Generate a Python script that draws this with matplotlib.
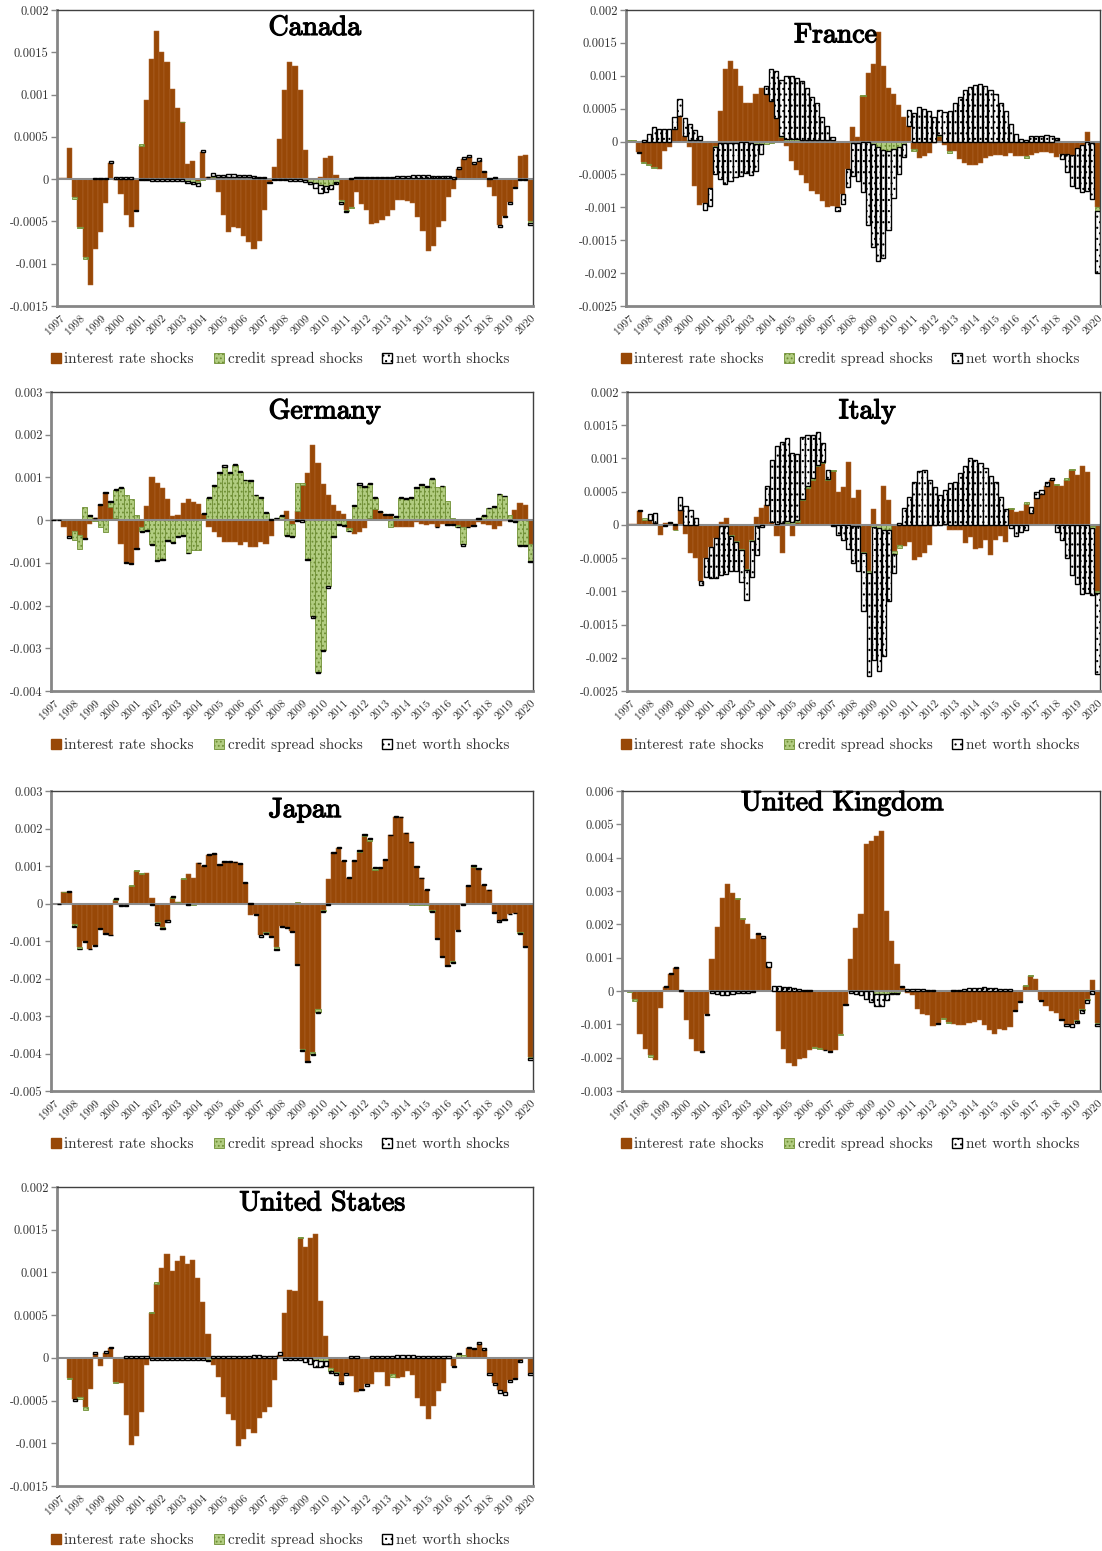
import numpy as np
import matplotlib
matplotlib.use("Agg")
import matplotlib.pyplot as plt
from matplotlib.patches import Patch
from matplotlib.transforms import ScaledTranslation
import matplotlib.patheffects as pe

plt.rcParams['font.family'] = ['cmr10', 'DejaVu Serif']
plt.rcParams['axes.unicode_minus'] = False
plt.rcParams['axes.formatter.use_mathtext'] = True
plt.rcParams['hatch.linewidth'] = 0.8

# quarterly contributions 1997Q1 - 2020Q1, in units of 1e-5
years = list(range(1997, 2021))

canada_ir = [1, 1, 37, -21, -56, -92, -125, -83, -62, -28,
             19, -1, -17, -42, -56, -36, 39, 93, 142, 175,
             150, 138, 106, 84, 67, 18, 22, -2, 32, 2,
             3, -15, -42, -62, -57, -58, -67, -74, -83, -73,
             -37, -3, 14, 48, 105, 138, 134, 105, 34, 0,
             0, 3, 25, 27, 5, -25, -36, -33, -15, -29,
             -37, -53, -52, -48, -44, -36, -25, -25, -26, -28,
             -45, -61, -85, -79, -56, -50, -21, -12, 12, 24,
             26, 18, 22, 8, -9, -20, -54, -43, -27, -9,
             27, 29, -50]
canada_cs = [0, 0, 0, -2, -2, -2, 0, 0, 0, 0,
             0, 0, 0, 0, 0, 0, 2, 0, 0, 0,
             0, 0, 0, 0, 1, -2, -3, -3, -1, 0,
             1, 2, 2, 2, 2, 2, 2, 2, 1, 1,
             1, 0, 0, 0, 0, 0, 0, 0, -1, -3,
             -5, -7, -8, -7, -3, -2, -2, -1, 1, 1,
             1, 1, 1, 1, 1, 1, 1, 1, 1, 1,
             1, 1, 1, 1, 1, 1, 1, 0, 0, 0,
             0, 0, 0, 0, 0, 1, 1, 0, 0, 0,
             0, 0, -2]
canada_nw = [0, 0, 0, 0, 0, 0, 0, 1, 1, 1,
             2, 2, 2, 2, 2, -2, -1, -1, -2, -2,
             -2, -2, -2, -2, -2, -3, -3, -3, 2, 1,
             3, 3, 3, 4, 4, 3, 3, 3, 3, 2,
             1, -2, -1, -1, -1, -2, -2, -2, -2, -3,
             -6, -9, -7, -5, -3, -2, -1, 1, 2, 2,
             2, 2, 2, 2, 2, 2, 3, 3, 3, 4,
             4, 4, 4, 3, 3, 3, 3, 2, 2, 2,
             2, 2, 3, 2, 1, 1, -2, -2, -2, -1,
             -1, -1, -2]

france_ir = [1, 1, -16, -31, -34, -38, -41, -15, -9, 19,
             39, 8, -9, -67, -96, -93, -70, -7, 47, 110,
             122, 110, 85, 58, 59, 73, 82, 73, 62, 36,
             7, -7, -30, -43, -51, -63, -75, -80, -90, -99,
             -98, -99, -79, -41, 22, 7, 69, 104, 118, 167,
             115, 82, 73, 55, 38, 23, -12, -25, -22, -17,
             -2, 8, -5, -15, -15, -27, -32, -35, -35, -32,
             -25, -22, -20, -20, -22, -18, -22, -22, -22, -20,
             -17, -16, -16, -18, -23, -19, -19, -20, -10, -5,
             14, -2, -100]
france_cs = [1, 1, 0, -2, -2, -2, 0, 0, 0, 0,
             -1, -1, 2, 2, 2, 1, 0, -1, -2, -2,
             -2, -2, -1, -1, -2, -3, -3, -3, -2, -1,
             1, 4, 4, 4, 3, 3, 3, 3, 3, 2,
             2, 1, 0, 0, -2, -2, 2, 0, -3, -8,
             -13, -15, -12, -8, -3, 0, -2, 0, 0, 0,
             0, 2, 0, -2, 0, 0, 0, 0, 0, 0,
             0, 0, 0, 0, 0, 0, 0, 0, -3, 0,
             0, 0, 0, 0, 2, 0, 0, 0, 0, 0,
             0, 0, -5]
france_nw = [0, 0, -1, 3, 12, 22, 19, 19, 19, 18,
             25, 28, 24, 16, 7, -11, -28, -41, -55, -62,
             -58, -52, -52, -47, -49, -42, -16, 11, 49, 72,
             86, 95, 96, 93, 89, 78, 65, 55, 35, 22,
             5, -7, -16, -28, -51, -58, -77, -127, -157, -174,
             -164, -119, -74, -41, -21, 25, 44, 52, 49, 46,
             37, 38, 45, 47, 58, 67, 78, 83, 86, 88,
             84, 78, 72, 59, 47, 27, 12, 4, 2, 8,
             8, 8, 10, 8, 3, -7, -28, -47, -60, -72,
             -75, -86, -95]

germany_ir = [0, 0, -15, -38, -25, -35, -42, -8, 5, 35,
              63, 30, 5, -57, -97, -100, -65, -15, 33, 100,
              87, 75, 50, 10, 12, 40, 49, 43, 37, 15,
              -15, -28, -40, -52, -50, -50, -58, -52, -63, -63,
              -52, -57, -37, 3, 2, 22, -8, 22, 83, 110,
              175, 133, 85, 58, 35, 22, 15, -18, -32, -27,
              -18, 5, 25, 18, 12, 13, -15, -17, -15, -15,
              -5, -10, -12, -10, -15, -8, -10, -10, -12, -15,
              -15, -12, -5, -10, -12, -20, -13, -3, 0, 23,
              40, 36, -55]
germany_cs = [0, 0, 3, 2, -22, -33, 31, 9, -2, -15,
              -28, 13, 65, 76, 60, 50, 12, -10, -22, -55,
              -93, -90, -46, -50, -38, -34, -76, -70, -70, 0,
              53, 80, 111, 125, 111, 128, 112, 93, 91, 58,
              53, 16, 1, 1, 8, -35, -30, 66, 4, -90,
              -225, -355, -303, -155, -37, -10, -12, -7, 33, 83,
              78, 80, 27, 2, 0, -15, 8, 52, 50, 52,
              75, 83, 78, 97, 78, 80, 45, 5, -3, -42,
              0, 3, 2, 10, 28, 30, 61, 56, 12, -2,
              -58, -58, -40]
germany_nw = [1, 1, 0, -3, 0, 0, -1, 2, 1, 2,
              2, 2, 2, 2, -3, -2, -3, -3, -3, -3,
              -3, -3, -3, -3, -2, -2, -2, 0, 0, 2,
              2, 3, 2, 3, 2, 3, 3, 2, 2, 2,
              2, 2, 2, 2, 1, -2, -2, -3, -5, -3,
              -3, -3, -3, -3, -3, -2, -2, -1, 2, 3,
              3, 3, 2, 2, 2, 2, 2, 2, 2, 2,
              2, 2, 2, 1, -2, 1, -1, -1, -2, -3,
              -2, -2, 2, 1, 1, 2, 1, 1, -2, -3,
              -2, -2, -2]

italy_ir = [1, 1, 21, 8, 8, 3, -15, 3, 3, -7,
            23, -13, -43, -50, -84, -50, -33, -19, 5, 10,
            -15, -24, -36, -66, -22, 12, 25, 30, 4, -16,
            -43, 3, -16, 4, 38, 56, 68, 88, 93, 68,
            81, 50, 57, 95, 40, 53, -41, -70, 24, 0,
            58, 37, -40, -30, -32, -25, -53, -48, -43, -30,
            -2, 0, 2, -7, -8, -8, -28, -18, -37, -35,
            -22, -45, -22, -17, -25, 24, 20, 21, 31, 18,
            41, 46, 58, 68, 60, 58, 68, 82, 75, 88,
            80, -2, -100]
italy_cs = [1, 1, 0, 2, 0, 0, 0, 0, 0, -1,
            0, 0, 0, 0, 0, 0, 0, 0, -2, -2,
            -2, -2, -2, -2, -2, -1, 0, 0, 0, 1,
            3, 3, 4, 3, 1, 2, 2, 2, 1, 1,
            1, 0, 0, 0, -1, -2, -2, -2, -3, -5,
            -8, -8, -4, -5, 0, 0, 0, 0, 0, 0,
            0, 0, 0, 0, 0, 0, 0, 0, 0, 0,
            0, 0, 0, 0, 0, 2, 0, 0, 3, 0,
            0, 0, 1, 0, 2, 0, 2, 2, 0, 0,
            0, -3, -3]
italy_nw = [0, 0, 2, 0, 9, 15, 0, -2, 2, 2,
            19, 28, 22, 10, -6, -29, -47, -61, -73, -72,
            -53, -43, -48, -45, -55, -45, -3, 28, 93, 117,
            121, 125, 104, 100, 93, 77, 66, 50, 29, 13,
            -2, -15, -22, -36, -56, -68, -87, -155, -200, -215,
            -189, -106, -28, 3, 25, 42, 64, 81, 83, 67,
            57, 45, 50, 63, 64, 78, 88, 100, 98, 93,
            86, 74, 64, 42, 24, -5, -17, -11, -7, 9,
            8, 7, 6, 2, -10, -23, -50, -75, -89, -104,
            -102, -100, -122]

japan_ir = [0, 0, 30, 30, -55, -115, -100, -120, -110, -65,
            -78, -83, 10, -5, -5, 48, 87, 80, 81, 14,
            -48, -62, -45, 15, 3, 66, 78, 67, 107, 100,
            130, 133, 103, 112, 112, 110, 105, 56, -30, -27,
            -85, -75, -87, -115, -60, -63, -73, -160, -387, -420,
            -395, -282, -18, 66, 135, 147, 113, 68, 113, 138,
            180, 168, 90, 95, 117, 182, 232, 230, 187, 163,
            97, 67, 37, -18, -92, -140, -163, -153, -70, -2,
            47, 97, 93, 50, 35, -23, -45, -40, -27, -24,
            -75, -113, -410]
japan_cs = [2, 0, 2, 0, -5, -5, 0, 0, 0, 0,
            0, 0, 3, 0, 0, 2, 3, 2, 0, 0,
            -5, -3, 0, 3, 2, 2, 0, -3, 0, 0,
            0, 0, 0, 0, 0, 0, 0, 0, 0, 2,
            0, -3, 0, -5, 0, 0, 0, 4, -3, 0,
            -5, -8, -2, 0, 0, 2, 0, 0, 0, 2,
            3, 5, 5, -2, -2, -2, -2, -2, -2, -3,
            -3, -3, -3, -2, 0, 0, 0, -3, 0, 0,
            0, 3, 0, 0, 0, 0, 0, 0, 0, 0,
            -3, 0, -3]
japan_nw = [0, -2, 0, 3, -2, -2, -2, -2, -2, -2,
            -2, -2, 3, -2, -2, 0, 0, 0, 0, -4,
            -3, -4, -3, 2, 0, 0, -5, 0, 2, 2,
            2, 2, 2, 2, 2, 2, 2, 2, 2, -3,
            -3, -3, -3, -3, -3, -3, -3, -3, -3, -3,
            -3, -3, -3, -3, 2, 2, 2, 2, 2, 2,
            2, 2, 2, 2, 2, 2, 2, 2, 2, 2,
            2, 2, 2, -2, -2, -3, -3, -3, -3, -2,
            2, 2, 2, 2, 2, -2, -3, -3, -2, -2,
            -2, -3, -3]

uk_ir = [0, -1, -25, -130, -173, -193, -208, -52, 13, 50,
         68, -3, -88, -145, -180, -180, -70, 97, 193, 280,
         320, 295, 275, 215, 200, 155, 170, 160, 72, 1,
         -120, -175, -215, -225, -205, -200, -178, -168, -170, -176,
         -180, -178, -130, -40, 95, 188, 230, 440, 450, 465,
         480, 240, 150, 80, 13, -5, -12, -55, -68, -73,
         -105, -97, -82, -93, -100, -103, -103, -97, -93, -88,
         -102, -118, -130, -115, -118, -108, -56, -31, 15, 45,
         35, -28, -45, -60, -65, -83, -100, -98, -88, -55,
         -25, 33, -95]
uk_cs = [0, -2, -5, 0, 0, -4, 0, 0, 0, 0,
         0, 0, 0, 0, 0, 0, 0, 0, 0, 0,
         0, 0, 3, 3, 0, 0, 0, 0, 0, 0,
         0, 0, 0, 0, 0, 0, 0, -3, -3, 0,
         0, 0, -3, 0, 0, 0, 0, 0, 0, -10,
         -10, -8, -5, -5, 0, 0, 0, 0, 0, 0,
         0, 0, -3, -3, 0, 0, 0, 0, 0, 0,
         0, 0, 0, 0, 0, 0, 0, 0, 3, 3,
         0, 0, 0, 0, 0, 0, 0, 0, -2, -3,
         -3, 0, -3]
uk_nw = [0, 0, 0, 0, 0, 0, 0, 0, 3, 3,
         4, 3, 0, 0, 0, -2, -3, -7, -10, -12,
         -12, -10, -7, -6, -5, -4, 3, 6, 14, 15,
         15, 13, 12, 9, 6, 4, 2, 0, 0, -2,
         -2, 0, 0, -3, -7, -10, -12, -25, -33, -35,
         -35, -20, -3, -3, 3, 5, 6, 6, 5, 2,
         2, -3, 0, 0, 2, 3, 7, 8, 10, 10,
         12, 10, 8, 7, 5, 5, -3, -3, 0, 0,
         0, -2, 0, 0, 0, -3, -5, -10, -5, -7,
         -7, -8, -7]

us_ir = [0, 0, -23, -48, -46, -58, -37, 5, -10, 6,
         11, -28, -30, -67, -102, -92, -63, -8, 52, 87,
         105, 122, 102, 113, 119, 110, 115, 93, 65, 28,
         -8, -22, -46, -66, -73, -103, -95, -83, -88, -70,
         -63, -57, -26, 3, 53, 80, 78, 140, 130, 140,
         145, 66, 26, -12, -16, -28, -18, -21, -40, -36,
         -31, -31, -16, -17, -33, -19, -24, -22, -15, -20,
         -47, -56, -71, -56, -39, -29, -1, -9, 1, 1,
         11, 10, 16, 9, -18, -30, -38, -40, -26, -23,
         -3, 0, -18]
us_cs = [0, 0, -2, 0, -2, -3, 0, 0, 0, 0,
         0, -2, 0, 0, 0, 0, 0, 0, 2, 2,
         0, 0, 0, 0, 0, 0, 0, 0, 0, -2,
         0, 0, 0, 0, 0, 0, 0, 0, 0, 0,
         0, 0, 0, 0, 0, 0, 0, 2, 0, 0,
         -3, -4, -4, -3, -2, 0, 0, 0, 0, 0,
         0, 0, 0, 0, 0, -3, 0, 0, 0, 0,
         0, 0, 0, 0, 0, 0, 0, 0, 3, 2,
         0, 0, 0, 0, 0, 0, 0, 0, 0, 0,
         0, 0, 0]
us_nw = [0, 0, 0, -2, 0, 0, 0, 2, 0, 2,
         2, 0, 0, 2, 2, 2, 2, 2, -2, -2,
         -2, -2, -3, -2, -2, -3, -3, -2, -2, -2,
         2, 2, 2, 2, 2, 2, 2, 2, 3, 3,
         2, 2, 2, 4, -2, -2, -2, -3, -5, -7,
         -8, -7, -5, -3, -2, -3, -2, 2, 2, -2,
         -2, 2, 2, 2, 2, 2, 3, 3, 3, 3,
         2, 2, 2, 2, 2, 2, 2, -2, 2, 0,
         2, 2, 2, 2, -2, -2, -3, -3, -2, -2,
         -2, 0, -2]

BROWN = '#984807'
GREEN_FACE = '#b1cc80'
GREEN_EDGE = '#6f8f35'

ir_style = dict(width=1.0, color=BROWN, edgecolor='#b0662f', linewidth=0.35, zorder=2)
cs_style = dict(width=1.0, facecolor=GREEN_FACE, edgecolor=GREEN_EDGE, hatch='....',
                linewidth=0.6, zorder=2.2)
nw_style = dict(width=0.82, facecolor='white', edgecolor='black', hatch='...',
                linewidth=1.0, zorder=3)

W, H = 1102, 1551

# name, series, axes box in pixels (left, top, right, bottom), y range, step,
# title centre (axes fraction), legend centre (pixels)
panels = [
    ('Canada', canada_ir, canada_cs, canada_nw, (57, 10, 533, 306),
     (-0.0015, 0.002), 0.0005, (0.542, 0.94), (280, 359)),
    ('France', france_ir, france_cs, france_nw, (626, 10, 1100, 306),
     (-0.0025, 0.002), 0.0005, (0.442, 0.915), (850, 359)),
    ('Germany', germany_ir, germany_cs, germany_nw, (51, 392, 533, 691),
     (-0.004, 0.003), 0.001, (0.568, 0.936), (280, 745)),
    ('Italy', italy_ir, italy_cs, italy_nw, (627, 392, 1100, 691),
     (-0.0025, 0.002), 0.0005, (0.508, 0.936), (850, 745)),
    ('Japan', japan_ir, japan_cs, japan_nw, (51, 791, 533, 1091),
     (-0.005, 0.003), 0.001, (0.527, 0.937), (280, 1144)),
    ('United Kingdom', uk_ir, uk_cs, uk_nw, (622, 791, 1100, 1091),
     (-0.003, 0.006), 0.001, (0.461, 0.96), (850, 1144)),
    ('United States', us_ir, us_cs, us_nw, (57, 1187, 533, 1486),
     (-0.0015, 0.002), 0.0005, (0.557, 0.946), (280, 1540)),
]


def tick_text(v):
    if abs(v) < 1e-12:
        return '0'
    return f"{v:.4f}".rstrip('0').rstrip('.')


fig = plt.figure(figsize=(W / 100, H / 100), dpi=100)

handles = [Patch(color=BROWN),
           Patch(facecolor=GREEN_FACE, edgecolor=GREEN_EDGE, hatch='....', linewidth=0.6),
           Patch(facecolor='white', edgecolor='black', hatch='...', linewidth=1.0)]
labels = ['interest rate shocks', 'credit spread shocks', 'net worth shocks']

# nudge the slanted year labels to the left so the last one stays inside
shift = ScaledTranslation(-7 / 100, 0, fig.dpi_scale_trans)

for name, ir, cs, nw, box, ylim, step, tpos, lpos in panels:
    l, t, r, b = box
    ax = fig.add_axes([l / W, 1 - b / H, (r - l) / W, (b - t) / H])

    n = len(ir)
    x = np.arange(n)
    pos = np.zeros(n)
    neg = np.zeros(n)
    for vals, style in ((ir, ir_style), (cs, cs_style), (nw, nw_style)):
        v = np.array(vals, dtype=float) * 1e-5
        base = np.where(v >= 0, pos, neg)
        m = v != 0
        ax.bar(x[m], v[m], bottom=base[m], **style)
        pos += np.where(v > 0, v, 0)
        neg += np.where(v < 0, v, 0)

    ax.axhline(0, color='#8c8c8c', linewidth=1.5, zorder=2.5)

    ax.set_xlim(-0.5, n - 0.5)
    ax.set_ylim(*ylim)
    ticks = np.arange(ylim[0], ylim[1] + step / 2, step)
    ax.set_yticks(ticks)
    ax.set_yticklabels([tick_text(v) for v in ticks])
    ax.set_xticks(np.arange(0, n, 4))
    ax.set_xticklabels([str(y) for y in years], rotation=45, ha='right',
                       va='top', rotation_mode='anchor')
    for lab in ax.get_xticklabels():
        lab.set_transform(lab.get_transform() + shift)

    ax.tick_params(axis='y', direction='out', length=4, width=1, color='#868686',
                   labelsize=9, labelcolor='#333333', pad=2)
    ax.tick_params(axis='x', length=0, labelsize=8.3, labelcolor='#333333', pad=5)

    for side in ('left', 'bottom'):
        ax.spines[side].set_color('#868686')
        ax.spines[side].set_linewidth(2)
    for side in ('top', 'right'):
        ax.spines[side].set_color('#404040')
        ax.spines[side].set_linewidth(1)

    ax.text(tpos[0], tpos[1], name, transform=ax.transAxes, ha='center', va='center',
            fontsize=20, color='black', zorder=5,
            path_effects=[pe.withStroke(linewidth=0.9, foreground='black')])

    fig.legend(handles, labels, loc='center',
               bbox_to_anchor=(lpos[0] / W, 1 - lpos[1] / H), ncol=3, frameon=False,
               fontsize=11, labelcolor='#333333', handlelength=0.65, handleheight=0.65,
               handletextpad=0.25, columnspacing=1.3, borderaxespad=0, borderpad=0)

fig.savefig('out.png', dpi=100)
